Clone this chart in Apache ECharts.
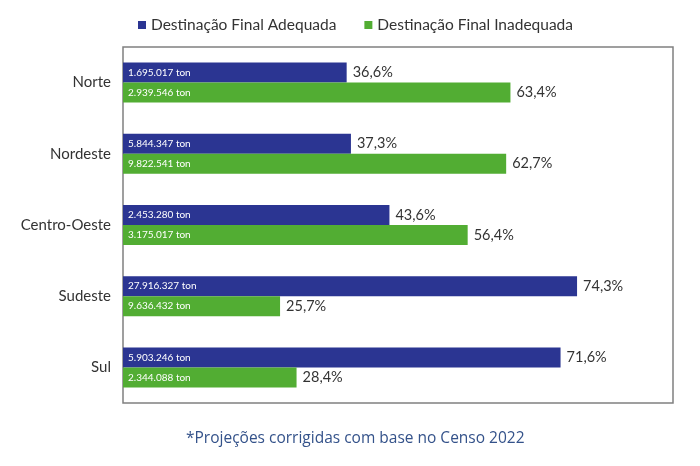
<!DOCTYPE html>
<html>
<head>
<meta charset="utf-8">
<script src="https://cdn.jsdelivr.net/npm/echarts@6/dist/echarts.min.js"></script>
<style>
html,body{margin:0;padding:0;background:#fff;}
#chart{width:700px;height:466px;}
</style>
</head>
<body>
<div id="chart"></div>
<script>
var categories = ['Norte', 'Nordeste', 'Centro-Oeste', 'Sudeste', 'Sul'];
var adequadaPct = [36.6, 37.3, 43.6, 74.3, 71.6];
var inadequadaPct = [63.4, 62.7, 56.4, 25.7, 28.4];
var adequadaTon = [1695017, 5844347, 2453280, 27916327, 5903246];
var inadequadaTon = [2939546, 9822541, 3175017, 9636432, 2344088];
var seriesNames = ['Destinação Final Adequada', 'Destinação Final Inadequada'];
var footnote = '*Projeções corrigidas com base no Censo 2022';

var BLUE = '#2b3592';
var GREEN = '#52ad33';

function fmtTon(v) {
  return String(v).replace(/\B(?=(\d{3})+(?!\d))/g, '.') + ' ton';
}
function fmtPct(v) {
  return v.toFixed(1).replace('.', ',') + '%';
}
var zeros = categories.map(function () { return 0; });

var chart = echarts.init(document.getElementById('chart'), null, {renderer: 'canvas'});
chart.setOption({
  animation: false,
  textStyle: {fontFamily: 'Lato'},
  legend: {
    data: seriesNames,
    top: 12,
    left: 133,
    icon: 'rect',
    itemWidth: 8,
    itemHeight: 8,
    itemGap: 28,
    textStyle: {fontFamily: 'Lato', fontSize: 15.5, color: '#333'}
  },
  grid: {
    left: 123, right: 27, top: 47, bottom: 63,
    show: true, borderColor: '#808080', borderWidth: 1.5,
    containLabel: false
  },
  xAxis: {
    type: 'value', min: 0, max: 90,
    show: false
  },
  yAxis: {
    type: 'category', data: categories, inverse: true,
    axisLine: {show: false}, axisTick: {show: false},
    axisLabel: {fontFamily: 'Lato', fontSize: 15, color: '#333', margin: 12}
  },
  graphic: [{
    type: 'text', left: 186, top: 431,
    style: {text: footnote, fontFamily: 'Open Sans', fontSize: 15.5, fill: '#34528a'}
  }],
  series: [
    {
      name: seriesNames[0], type: 'bar', stack: 'a', barWidth: 20, barGap: 0,
      data: adequadaPct, itemStyle: {color: BLUE},
      label: {show: true, position: 'insideLeft', distance: 5, color: '#fff', fontSize: 10,
        formatter: function (p) { return fmtTon(adequadaTon[p.dataIndex]); }}
    },
    {
      type: 'bar', stack: 'a', barWidth: 20, data: zeros,
      itemStyle: {color: 'transparent'}, silent: true,
      label: {show: true, position: 'right', distance: 6, color: '#333', fontSize: 14.5,
        formatter: function (p) { return fmtPct(adequadaPct[p.dataIndex]); }}
    },
    {
      name: seriesNames[1], type: 'bar', stack: 'b', barWidth: 20, barGap: 0,
      data: inadequadaPct, itemStyle: {color: GREEN},
      label: {show: true, position: 'insideLeft', distance: 5, color: '#fff', fontSize: 10,
        formatter: function (p) { return fmtTon(inadequadaTon[p.dataIndex]); }}
    },
    {
      type: 'bar', stack: 'b', barWidth: 20, data: zeros,
      itemStyle: {color: 'transparent'}, silent: true,
      label: {show: true, position: 'right', distance: 6, color: '#333', fontSize: 14.5,
        formatter: function (p) { return fmtPct(inadequadaPct[p.dataIndex]); }}
    }
  ]
});
</script>
</body>
</html>
